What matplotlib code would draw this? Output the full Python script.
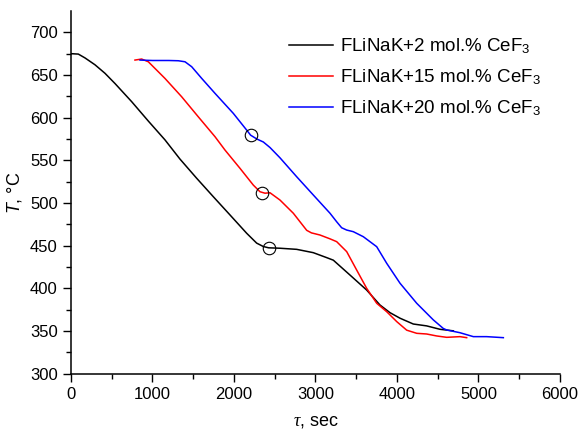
#!/usr/bin/env python3
"""Cooling curves of FLiNaK + CeF3 melts."""
import matplotlib
matplotlib.use('Agg')
import matplotlib.pyplot as plt

plt.rcParams['font.family'] = ['Liberation Sans', 'DejaVu Sans']
plt.rcParams['mathtext.fontset'] = 'custom'
plt.rcParams['mathtext.rm'] = 'Liberation Sans'
plt.rcParams['mathtext.sf'] = 'Liberation Sans:italic'
plt.rcParams['mathtext.it'] = 'Liberation Serif:italic'

# black: FLiNaK+2 mol.% CeF3
t_2 = [0, 90, 172, 294, 417, 540, 745, 949, 1153, 1337, 1542, 1746, 1951,
       2156, 2278, 2360, 2425, 2564, 2769, 2973, 3137, 3219, 3423, 3628, 3791,
       3914, 4037, 4200, 4364, 4528, 4691]
T_2 = [675, 674.5, 670, 662, 652, 640, 618.7, 596, 574, 551.5, 529, 507.4,
       486, 464.5, 453, 449, 447.5, 447, 445.7, 441.8, 436, 433, 415.6, 398,
       380.5, 371.5, 365, 358.2, 356, 352, 350.2]

# red: FLiNaK+15 mol.% CeF3
t_15 = [785, 867, 949, 1153, 1358, 1562, 1767, 1890, 2074, 2237, 2319, 2380,
        2442, 2564, 2728, 2892, 2950, 3055, 3178, 3260, 3383, 3505, 3628, 3751,
        3874, 3997, 4119, 4242, 4364, 4487, 4610, 4773, 4855]
T_15 = [667.5, 668.7, 665.5, 646, 624.5, 601, 577.7, 562, 540.6, 521, 513.2,
        511.5, 512, 503.5, 488, 468, 465, 462.5, 458, 454.7, 443, 421.5, 400,
        382.5, 372.6, 361, 351, 347.3, 346.5, 344.2, 342.6, 343.4, 342.2]

# blue: FLiNaK+20 mol.% CeF3
t_20 = [847, 1000, 1200, 1317, 1399, 1481, 1604, 1767, 1992, 2155, 2204,
        2280, 2360, 2442, 2564, 2769, 2973, 3178, 3260, 3321, 3383, 3464,
        3587, 3751, 3874, 4037, 4242, 4446, 4568, 4610, 4773, 4937, 5100, 5305]
T_20 = [667.5, 667, 667, 666.7, 665.5, 659.7, 646, 628.5, 605, 585.5, 579.5,
        575, 571.5, 565, 553, 530.8, 509.4, 488, 478, 471, 468.3, 466.4,
        460.5, 448.8, 429.3, 406, 382.5, 363, 353, 351.2, 348, 343.4, 343.4, 342.2]

# circled points (phase transitions)
mark_t = [2204, 2348, 2425]
mark_T = [580, 512, 447]

labels = ['FLiNaK+2 mol.% CeF$_3$', 'FLiNaK+15 mol.% CeF$_3$',
          'FLiNaK+20 mol.% CeF$_3$']

fig = plt.figure(figsize=(5.8, 4.33), dpi=100)
ax = fig.add_axes([0.1224, 0.137, 0.8431, 0.8376])

ax.plot(t_2, T_2, color='black', lw=1.1, label=labels[0])
ax.plot(t_15, T_15, color='red', lw=1.1, label=labels[1])
ax.plot(t_20, T_20, color='blue', lw=1.1, label=labels[2])
ax.plot(mark_t, mark_T, 'o', ms=9, mfc='none', mec='black', mew=0.8)

ax.set_xlim(0, 6000)
ax.set_ylim(300, 725)
ax.set_xticks(range(0, 6001, 1000))
ax.set_xticks(range(500, 6000, 1000), minor=True)
ax.set_yticks(range(300, 701, 50))
ax.set_yticks(range(325, 725, 50), minor=True)
ax.tick_params(which='major', direction='out', length=6, width=1, labelsize=12)
ax.tick_params(which='minor', direction='out', length=3.5, width=1)
for s in ['top', 'right']:
    ax.spines[s].set_visible(False)
for s in ['left', 'bottom']:
    ax.spines[s].set_linewidth(1.1)

ax.set_xlabel(r'$\tau$, sec', fontsize=13, labelpad=8)
ax.set_ylabel(r'$\mathsf{T}$, °C', fontsize=13, labelpad=4)

ax.legend(loc='upper left', bbox_to_anchor=(0.47, 0.955),
          bbox_transform=fig.transFigure, frameon=False, fontsize=13.5,
          handlelength=2.3, handletextpad=0.4, labelspacing=0.6)

plt.savefig('out.png', dpi=100)
plt.close()
